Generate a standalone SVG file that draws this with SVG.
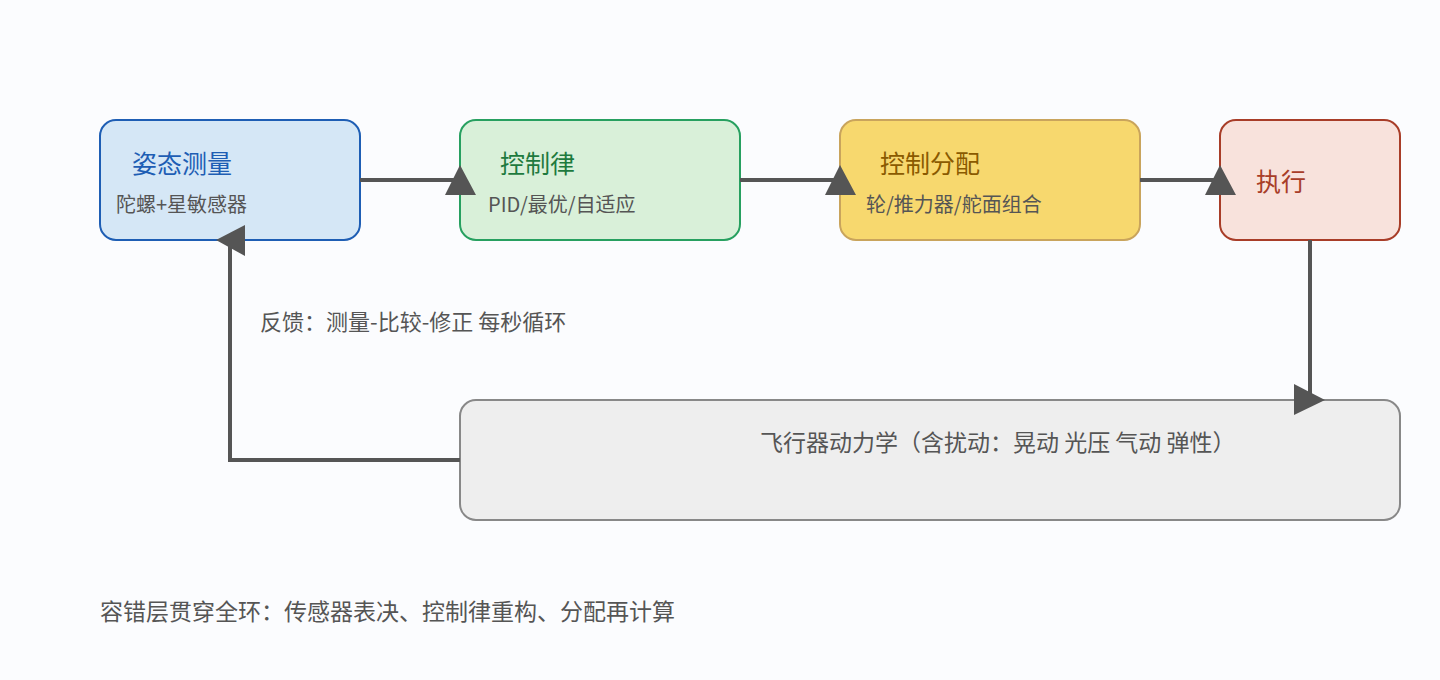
<svg xmlns="http://www.w3.org/2000/svg" width="1440" height="680" viewBox="0 0 1440 680">
<style>
text{font-family:"Noto Sans CJK SC","Noto Sans",sans-serif}
.t{font-size:25px}.s{font-size:20px;fill:#555}.m{font-size:23px;fill:#555}
.c{stroke:#555;stroke-width:4;fill:none}
.h{fill:#555}
</style>
<rect width="1440" height="680" fill="#fbfcfe"/>
<g id="n1"><rect x="100" y="120" width="260" height="120" rx="16" fill="#d5e7f6" stroke="#1e5eb4" stroke-width="2"/>
<text class="t" x="132" y="173" fill="#1e5eb4">姿态测量</text><text class="s" x="116" y="212">陀螺+星敏感器</text></g>
<g id="n2"><rect x="460" y="120" width="280" height="120" rx="16" fill="#d9f0d9" stroke="#27a060" stroke-width="2"/>
<text class="t" x="500" y="173" fill="#1e7a3e">控制律</text><text class="s" x="488" y="212">PID/最优/自适应</text></g>
<g id="n3"><rect x="840" y="120" width="300" height="120" rx="16" fill="#f7d86e" stroke="#c9a45c" stroke-width="2"/>
<text class="t" x="880" y="173" fill="#8a5a00">控制分配</text><text class="s" x="866" y="212">轮/推力器/舵面组合</text></g>
<g id="n4"><rect x="1220" y="120" width="180" height="120" rx="16" fill="#f8e2dc" stroke="#a83d28" stroke-width="2"/>
<text class="t" x="1256" y="191" fill="#a83d28">执行</text></g>
<g id="n5"><rect x="460" y="400" width="940" height="120" rx="16" fill="#eeeeee" stroke="#888" stroke-width="2"/>
<text class="m" x="760" y="451">飞行器动力学（含扰动：晃动 光压 气动 弹性）</text></g>
<g id="connectors">
<path class="c" d="M360 180H460"/><polygon class="h" points="460,165 445,195 476,195"/>
<path class="c" d="M740 180H840"/><polygon class="h" points="840,165 825,195 856,195"/>
<path class="c" d="M1140 180H1220"/><polygon class="h" points="1220,165 1205,195 1236,195"/>
<path class="c" d="M1310 240V400"/><polygon class="h" points="1294,384 1294,415 1325,400"/>
<path class="c" d="M460 460H230V240"/><polygon class="h" points="216,240 245,225 245,256"/>
<text class="m" x="260" y="330" style="font-size:22px">反馈：测量-比较-修正 每秒循环</text>
</g>
<text class="m" x="100" y="620">容错层贯穿全环：传感器表决、控制律重构、分配再计算</text>
</svg>
